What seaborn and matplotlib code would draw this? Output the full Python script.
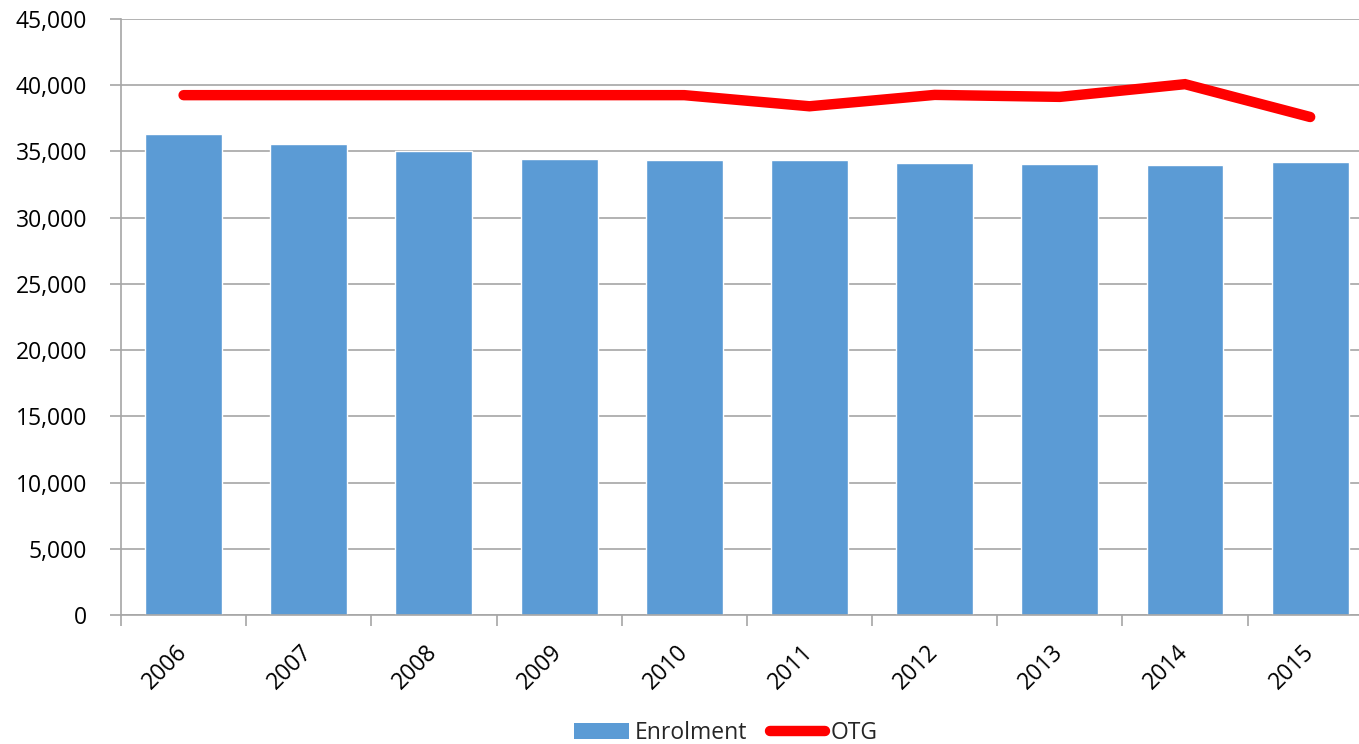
import matplotlib
matplotlib.use("Agg")
import matplotlib.pyplot as plt
import matplotlib.ticker as mticker
from matplotlib.patches import Patch
from matplotlib.lines import Line2D
import numpy as np
import pandas as pd
import seaborn as sns

years = ["2006", "2007", "2008", "2009", "2010", "2011", "2012", "2013", "2014", "2015"]
enrolment = [36340, 35560, 35050, 34440, 34320, 34320, 34140, 34070, 33990, 34190]
otg = [39250, 39250, 39250, 39250, 39250, 38410, 39270, 39120, 40080, 37600]
yticks = [0, 5000, 10000, 15000, 20000, 25000, 30000, 35000, 40000, 45000]

bar_color = "#5B9BD5"
line_color = "#FF0000"
grid_color = "#A6A6A6"
fs = 16.5

sns.set_theme(style="white")
plt.rcParams["font.family"] = ["Open Sans", "DejaVu Sans"]

df = pd.DataFrame({"year": years, "Enrolment": enrolment, "OTG": otg})
df["pos"] = np.arange(len(df))

fig = plt.figure(figsize=(13.59, 7.44), dpi=100)
ax = fig.add_axes([121 / 1359, 1 - 615 / 744, 1 - 121 / 1359, (615 - 19) / 744])

sns.barplot(data=df, x="year", y="Enrolment", color=bar_color, width=0.615,
            saturation=1, ax=ax, zorder=2)
sns.lineplot(data=df, x="pos", y="OTG", color=line_color, linewidth=7.5,
             solid_capstyle="round", solid_joinstyle="miter", ax=ax, zorder=3)

ax.set_yticks(yticks)
ax.yaxis.set_major_formatter(mticker.FuncFormatter(lambda v, p: f"{int(v):,}"))
ax.set_xticks(np.arange(len(years)))
ax.set_xticklabels(years)
ax.set_xticks(np.arange(-0.5, len(years) + 0.5, 1), minor=True)
ax.set_ylim(0, 45000)
ax.set_xlim(-0.5, 9.39)
ax.set_xlabel("")
ax.set_ylabel("")

ax.grid(axis="y", color=grid_color, linewidth=1.2, zorder=0)
ax.set_axisbelow(True)
for s in ["top", "right"]:
    ax.spines[s].set_visible(False)
for s in ["left", "bottom"]:
    ax.spines[s].set_color(grid_color)
    ax.spines[s].set_linewidth(1.2)

ax.tick_params(axis="y", which="major", direction="out", length=8, width=1.2,
               color=grid_color, labelsize=fs, labelcolor="black", pad=16.5, left=True)
ax.tick_params(axis="x", which="major", length=0, labelsize=fs, labelcolor="black", pad=24)
ax.tick_params(axis="x", which="minor", direction="out", length=8, width=1.2,
               color=grid_color, bottom=True)
for lab in ax.get_xticklabels():
    lab.set_rotation(45)
    lab.set_ha("right")
    lab.set_va("center")
    lab.set_rotation_mode("anchor")

handles = [Patch(facecolor=bar_color, edgecolor="none", label="Enrolment"),
           Line2D([0], [0], color=line_color, linewidth=7.5, solid_capstyle="round", label="OTG")]
fig.legend(handles=handles, loc="center", bbox_to_anchor=(726 / 1359, 1 - 733 / 744), ncol=2,
           frameon=False, fontsize=fs, handlelength=2.4, handleheight=0.7,
           handletextpad=0.25, columnspacing=1.0)

fig.savefig("out.png", dpi=100)
